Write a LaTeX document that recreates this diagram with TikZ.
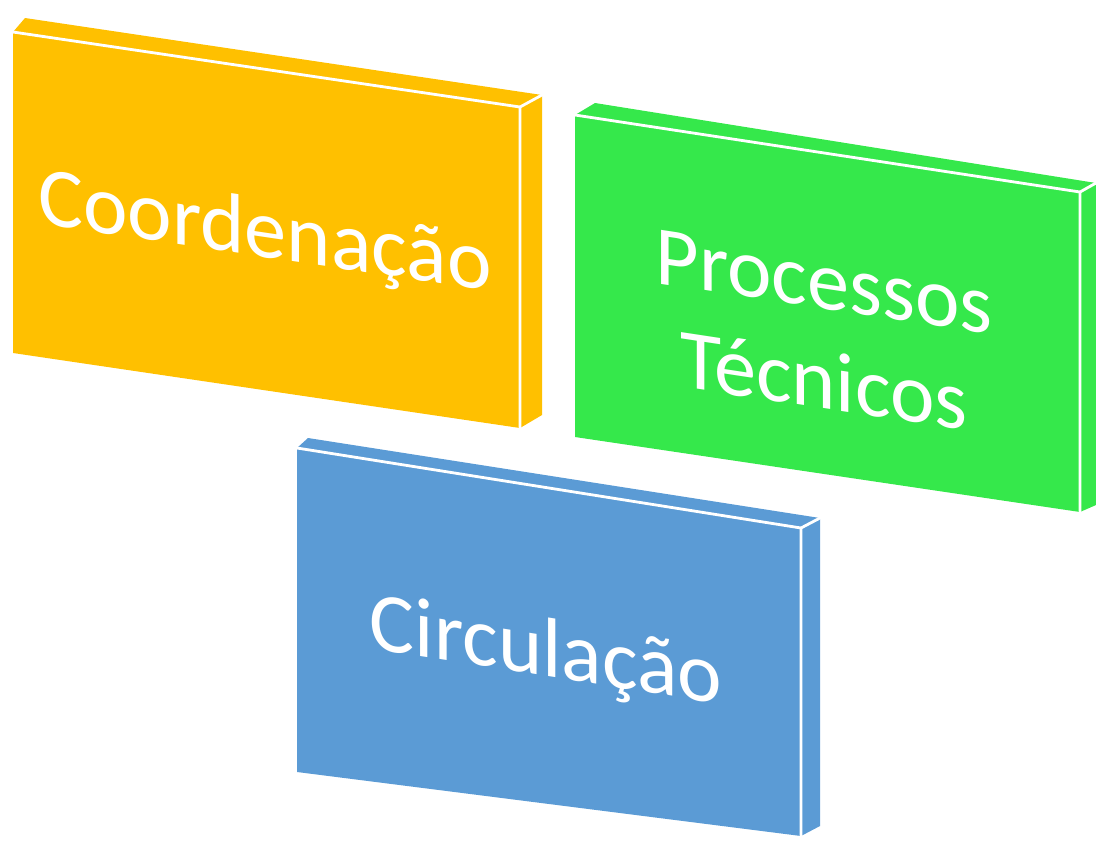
\documentclass[tikz,border=0pt]{standalone}
\usepackage{fontspec}
\setmainfont{Carlito}
\definecolor{cyellow}{HTML}{FFC000}
\definecolor{cgreen}{HTML}{35E84B}
\definecolor{cblue}{HTML}{5B9BD5}
\begin{document}
\begin{tikzpicture}[x=0.02cm,y=-0.02cm,
  edge/.style={white, line width=1.6pt, line cap=round, line join=round},
  lbl/.style={text=white, font=\fontsize{48}{57}\selectfont, align=center, inner sep=0pt}]
\useasboundingbox (0,0) rectangle (1096,843);
% yellow slab
\coordinate (y1) at (13,32);
\coordinate (y2) at (520,107);
\coordinate (y3) at (520,428);
\coordinate (y4) at (13,353);
\coordinate (y5) at (25,18);
\coordinate (y6) at (542,95);
\coordinate (y7) at (542,415);
\fill[cyellow] (y1) -- (y5) -- (y6) -- (y7) -- (y3) -- (y4) -- cycle;
\draw[edge] (y1) -- (y2) -- (y3);
\draw[edge] (y2) -- (y6);
\node[lbl, yslant=-0.148] (coord) at (265,235) {Coordenação};
% green slab
\coordinate (g1) at (575,115);
\coordinate (g2) at (1080,192);
\coordinate (g3) at (1080,512);
\coordinate (g4) at (575,437);
\coordinate (g5) at (595,103);
\coordinate (g6) at (1096,183);
\coordinate (g7) at (1096,505);
\fill[cgreen] (g1) -- (g5) -- (g6) -- (g7) -- (g3) -- (g4) -- cycle;
\draw[edge] (g1) -- (g2) -- (g3);
\draw[edge] (g2) -- (g6);
\node[lbl, yslant=-0.152] (proc) at (824,332) {Processos\\Técnicos};
% blue slab
\coordinate (b1) at (297,448);
\coordinate (b2) at (801,528);
\coordinate (b3) at (801,836);
\coordinate (b4) at (297,772);
\coordinate (b5) at (308,438);
\coordinate (b6) at (820,518);
\coordinate (b7) at (820,826);
\fill[cblue] (b1) -- (b5) -- (b6) -- (b7) -- (b3) -- (b4) -- cycle;
\draw[edge] (b1) -- (b2) -- (b3);
\draw[edge] (b2) -- (b6);
\node[lbl, yslant=-0.159] (circ) at (546,654) {Circulação};
\end{tikzpicture}
\end{document}
